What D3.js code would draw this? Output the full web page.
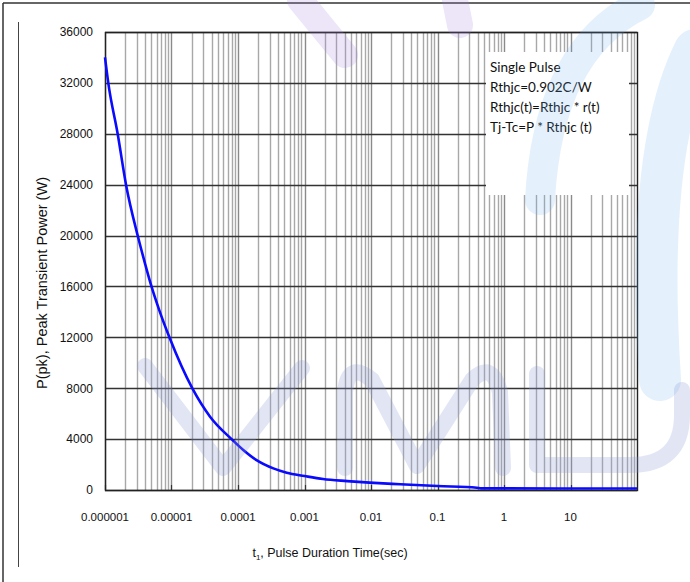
<!DOCTYPE html>
<html><head><meta charset="utf-8">
<script src="https://cdn.jsdelivr.net/npm/d3@7"></script>
<style>body{margin:0;background:#fff}svg{display:block}</style>
</head><body>
<svg id="chart" width="690" height="582"></svg>
<script>
// Single-pulse peak transient power vs. pulse duration
const pulseTimes = [1e-6, 1.12e-6, 1.55e-6, 2.07e-6, 3.1e-6, 4e-6, 5e-6, 6.6e-6, 9.3e-6,
  2.05e-5, 3.8e-5, 8e-5, 1.2e-4, 1.9e-4, 3.4e-4, 5.4e-4, 1e-3, 1.9e-3, 4.4e-3,
  9.5e-3, 2.75e-2, 1e-1, 3.9e-1, 4.5e-1, 100];
const peakPower = [34000, 32000, 28000, 24000, 20000, 17800, 16000, 14080, 12000,
  8000, 5760, 4000, 3150, 2350, 1700, 1360, 1100, 860, 700,
  580, 450, 310, 180, 130, 120];
const yTickValues = [0, 4000, 8000, 12000, 16000, 20000, 24000, 28000, 32000, 36000];
const xTickValues = [1e-6, 1e-5, 1e-4, 1e-3, 1e-2, 1e-1, 1, 10];
const xTickLabels = ["0.000001", "0.00001", "0.0001", "0.001", "0.01", "0.1", "1", "10"];
const noteLines = ["Single Pulse", "Rthjc=0.902C/W", "Rthjc(t)=Rthjc * r(t)", "Tj-Tc=P * Rthjc (t)"];

const svg = d3.select("#chart");
const m = {left: 105, top: 32, right: 637, bottom: 490};
const x = d3.scaleLog().domain([1e-6, 100]).range([m.left, m.right]);
const y = d3.scaleLinear().domain([0, 36000]).range([m.bottom, m.top]);

// outer frame
svg.append("line").attr("x1", 3).attr("x2", 690).attr("y1", 3).attr("y2", 3)
  .attr("stroke", "#333").attr("stroke-width", 1.5);
svg.append("line").attr("x1", 3).attr("x2", 3).attr("y1", 3).attr("y2", 582)
  .attr("stroke", "#333").attr("stroke-width", 1.5);
svg.append("line").attr("x1", 18.5).attr("x2", 18.5).attr("y1", 22).attr("y2", 567)
  .attr("stroke", "#444").attr("stroke-width", 1);

// vertical log grid
const minorTicks = [];
for (let d = -6; d <= 1; d++) for (let k = 1; k <= 9; k++) minorTicks.push(k * Math.pow(10, d));
svg.append("g").selectAll("line").data(minorTicks).join("line")
  .attr("x1", d => Math.round(x(d)) + 0.5).attr("x2", d => Math.round(x(d)) + 0.5)
  .attr("y1", m.top).attr("y2", m.bottom)
  .attr("stroke", d => xTickValues.includes(d) ? "#8a8a8a" : "#a8a8a8")
  .attr("stroke-width", 1.4);

// horizontal grid
svg.append("g").selectAll("line").data(yTickValues).join("line")
  .attr("x1", m.left).attr("x2", m.right)
  .attr("y1", d => Math.round(y(d)) + 0.5).attr("y2", d => Math.round(y(d)) + 0.5)
  .attr("stroke", "#333").attr("stroke-width", 1.4);

// decade tick stubs on the x axis
svg.append("g").selectAll("line").data(xTickValues).join("line")
  .attr("x1", d => Math.round(x(d)) + 0.5).attr("x2", d => Math.round(x(d)) + 0.5)
  .attr("y1", m.bottom).attr("y2", m.bottom - 5)
  .attr("stroke", "#333").attr("stroke-width", 1.2);

// note box
const box = svg.append("g");
box.append("rect").attr("x", 486).attr("y", 52).attr("width", 143).attr("height", 143).attr("fill", "#fff");
box.selectAll("text").data(noteLines).join("text")
  .attr("x", 490).attr("y", (d, i) => 72 + i * 20)
  .attr("font-family", "Lato, 'Open Sans', sans-serif").attr("font-size", 13.5)
  .attr("fill", "#111").text(d => d);

// plot border
svg.append("rect").attr("x", m.left + 0.5).attr("y", m.top + 0.5)
  .attr("width", m.right - m.left).attr("height", m.bottom - m.top)
  .attr("fill", "none").attr("stroke", "#222").attr("stroke-width", 1.4);

// axis labels
svg.append("g").selectAll("text").data(yTickValues).join("text")
  .attr("x", 93).attr("y", d => y(d)).attr("dy", "0.36em").attr("text-anchor", "end")
  .attr("font-family", "'Liberation Sans', Arial, sans-serif").attr("font-size", 12)
  .attr("fill", "#111").text(d => d);
svg.append("g").selectAll("text").data(xTickValues).join("text")
  .attr("x", d => x(d)).attr("y", 517).attr("dy", "0.36em").attr("text-anchor", "middle")
  .attr("font-family", "'Liberation Sans', Arial, sans-serif").attr("font-size", 11.5)
  .attr("fill", "#111").text((d, i) => xTickLabels[i]);

const xt = svg.append("text").attr("x", 330).attr("y", 557).attr("text-anchor", "middle")
  .attr("font-family", "'Liberation Sans', Arial, sans-serif").attr("font-size", 12.5).attr("fill", "#111");
xt.append("tspan").text("t");
xt.append("tspan").attr("font-size", 8).attr("dy", 3).text("1");
xt.append("tspan").attr("dy", -3).text(", Pulse Duration Time(sec)");

svg.append("text").attr("transform", "translate(47,283) rotate(-90)").attr("text-anchor", "middle")
  .attr("font-family", "'Liberation Sans', Arial, sans-serif").attr("font-size", 14.5)
  .attr("fill", "#111").text("P(pk), Peak Transient Power (W)");

// power curve
const pts = pulseTimes.map((t, i) => [t, peakPower[i]]);
svg.append("path").datum(pts)
  .attr("d", d3.line().x(d => x(d[0])).y(d => y(d[1])).curve(d3.curveMonotoneX))
  .attr("fill", "none").attr("stroke", "#0a0aff").attr("stroke-width", 2.6);

// faint logo overlay
const wm = svg.append("g").attr("fill", "none").attr("stroke-linecap", "round").attr("stroke-linejoin", "round");
const letter = {stroke: "#8f9bd0", width: 16, op: 0.26};
[
  "M145,366 L223,468 L302,368",
  "M345,468 L345,392 Q348,360 372,380 L417,466 L472,380 Q492,360 500,392 L503,468",
  "M537,374 L537,465 L630,465 Q682,465 682,415 L682,390"
].forEach(p => wm.append("path").attr("d", p)
  .attr("stroke", letter.stroke).attr("stroke-width", letter.width).attr("opacity", letter.op));
wm.append("path").attr("d", "M540,200 Q548,50 640,5")
  .attr("stroke", "#6aaaf0").attr("stroke-width", 30).attr("opacity", 0.18);
wm.append("path").attr("d", "M660,380 Q645,150 695,50")
  .attr("stroke", "#6aaaf0").attr("stroke-width", 42).attr("opacity", 0.18);
wm.append("path").attr("d", "M300,0 L345,55 M455,0 L460,25")
  .attr("stroke", "#a57ddc").attr("stroke-width", 26).attr("opacity", 0.2);
</script>
</body></html>
